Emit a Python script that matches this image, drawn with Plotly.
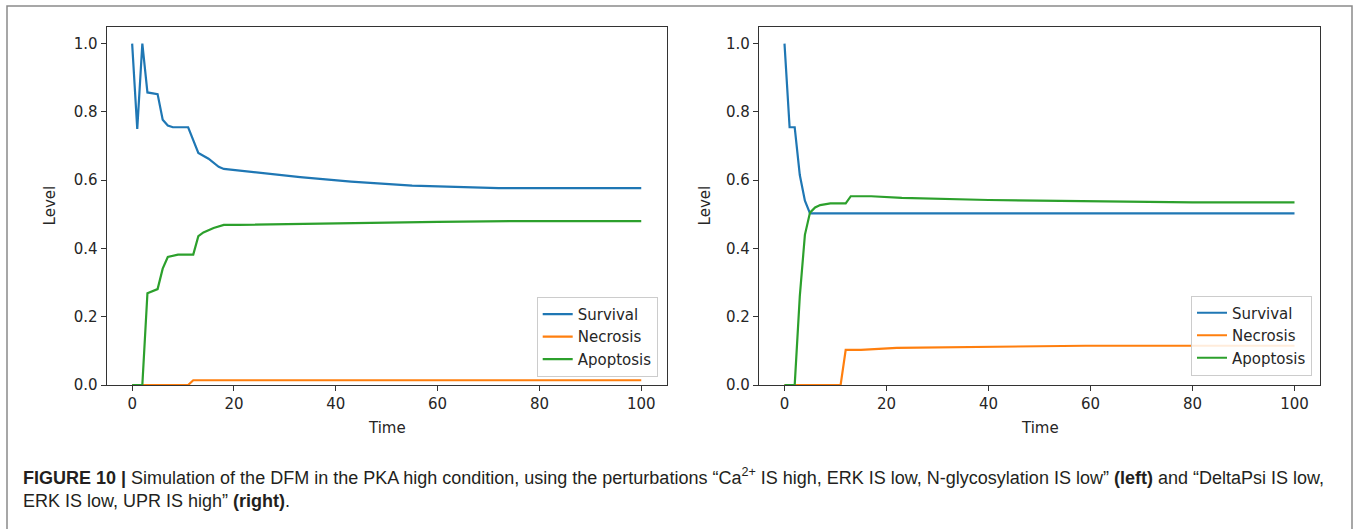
import plotly.graph_objects as go

# ---------------- data ----------------
series_names = ["Survival", "Necrosis", "Apoptosis"]
x_ticks = [0, 20, 40, 60, 80, 100]
y_ticks = [0.0, 0.2, 0.4, 0.6, 0.8, 1.0]

# Left panel
left_survival_t = [0, 1, 2, 3, 5, 6, 7, 8, 11, 13, 15, 17, 18, 21, 33, 43, 55, 72, 100]
left_survival_v = [1.0, 0.75, 1.0, 0.857, 0.852, 0.777, 0.76, 0.755, 0.755, 0.68, 0.663,
                   0.639, 0.633, 0.628, 0.609, 0.596, 0.584, 0.577, 0.577]
left_necrosis_t = [0, 11, 12, 100]
left_necrosis_v = [0.0, 0.0, 0.014, 0.014]
left_apoptosis_t = [0, 2, 3, 5, 6, 7, 9, 12, 13, 14, 16, 18, 21, 40, 60, 75, 100]
left_apoptosis_v = [0.0, 0.0, 0.269, 0.281, 0.341, 0.375, 0.382, 0.382, 0.436, 0.447,
                    0.46, 0.469, 0.469, 0.474, 0.478, 0.48, 0.48]

# Right panel
right_survival_t = [0, 1, 2, 3, 4, 5, 100]
right_survival_v = [1.0, 0.755, 0.755, 0.615, 0.54, 0.503, 0.503]
right_necrosis_t = [0, 11, 12, 15, 22, 40, 59, 75, 100]
right_necrosis_v = [0.0, 0.0, 0.103, 0.103, 0.109, 0.112, 0.115, 0.115, 0.115]
right_apoptosis_t = [0, 2, 3, 4, 5, 6, 7, 9, 12, 13, 17, 23, 40, 60, 80, 100]
right_apoptosis_v = [0.0, 0.0, 0.26, 0.44, 0.505, 0.52, 0.527, 0.532, 0.532, 0.553,
                     0.553, 0.548, 0.542, 0.538, 0.535, 0.535]

colors = ["#1f77b4", "#ff7f0e", "#2ca02c"]

caption_line1 = ("<b>FIGURE 10 |</b> Simulation of the DFM in the PKA high condition, using the "
                 "perturbations “Ca<sup>2+</sup> IS high, ERK IS low, N-glycosylation IS low” "
                 "<b>(left)</b> and “DeltaPsi IS low,")
caption_line2 = "ERK IS low, UPR IS high” <b>(right)</b>."

# ---------------- figure ----------------
W, H = 1358, 529
fig = go.Figure()

left = [(left_survival_t, left_survival_v), (left_necrosis_t, left_necrosis_v),
        (left_apoptosis_t, left_apoptosis_v)]
right = [(right_survival_t, right_survival_v), (right_necrosis_t, right_necrosis_v),
         (right_apoptosis_t, right_apoptosis_v)]

for i, (t, v) in enumerate(left):
    fig.add_trace(go.Scatter(x=t, y=v, mode="lines", name=series_names[i],
                             line=dict(color=colors[i], width=2.2),
                             xaxis="x", yaxis="y", legend="legend"))
for i, (t, v) in enumerate(right):
    fig.add_trace(go.Scatter(x=t, y=v, mode="lines", name=series_names[i],
                             line=dict(color=colors[i], width=2.2),
                             xaxis="x2", yaxis="y2", legend="legend2"))

tick_font = dict(family="DejaVu Sans", size=15, color="#262626")
axis_common = dict(showline=True, linecolor="#333333", linewidth=1.3, mirror=True,
                   ticks="outside", ticklen=5, tickwidth=1.2, tickcolor="#333333",
                   showgrid=False, zeroline=False, tickfont=tick_font)

y_dom = [1 - 391.7 / H, 1 - 27 / H]
fig.update_layout(
    width=W, height=H, autosize=False,
    margin=dict(l=0, r=0, t=0, b=0),
    paper_bgcolor="white", plot_bgcolor="white",
    xaxis=dict(domain=[106.7 / W, 666.7 / W], range=[-5, 105], tickvals=x_ticks,
               anchor="y", **axis_common),
    yaxis=dict(domain=y_dom, range=[0, 1.05], tickvals=y_ticks, tickformat=".1f",
               anchor="x", **axis_common),
    xaxis2=dict(domain=[759 / W, 1320 / W], range=[-5, 105], tickvals=x_ticks,
                anchor="y2", **axis_common),
    yaxis2=dict(domain=y_dom, range=[0, 1.05], tickvals=y_ticks, tickformat=".1f",
                anchor="x2", **axis_common),
    legend=dict(x=657.7 / W, y=1 - 383.3 / H, xanchor="right", yanchor="bottom",
                bgcolor="rgba(255,255,255,0.85)", bordercolor="#cccccc", borderwidth=1,
                font=dict(family="DejaVu Sans", size=15, color="#262626")),
    legend2=dict(x=1312 / W, y=1 - 382 / H, xanchor="right", yanchor="bottom",
                 bgcolor="rgba(255,255,255,0.85)", bordercolor="#cccccc", borderwidth=1,
                 font=dict(family="DejaVu Sans", size=15, color="#262626")),
    showlegend=True,
)

ann_font = dict(family="DejaVu Sans", size=15, color="#262626")
cap_font = dict(family="Liberation Sans", size=18, color="#231f20")
annotations = [
    dict(text="Time", x=386.7 / W, y=1 - 435 / H, xref="paper", yref="paper",
         showarrow=False, font=ann_font, xanchor="center", yanchor="middle"),
    dict(text="Time", x=1039.5 / W, y=1 - 435 / H, xref="paper", yref="paper",
         showarrow=False, font=ann_font, xanchor="center", yanchor="middle"),
    dict(text="Level", x=50 / W, y=1 - 209 / H, xref="paper", yref="paper", textangle=-90,
         showarrow=False, font=ann_font, xanchor="center", yanchor="middle"),
    dict(text="Level", x=705 / W, y=1 - 209 / H, xref="paper", yref="paper", textangle=-90,
         showarrow=False, font=ann_font, xanchor="center", yanchor="middle"),
    dict(text=caption_line1, x=21 / W, y=1 - 485 / H, xref="paper", yref="paper",
         showarrow=False, xanchor="left", yanchor="middle", align="left", font=cap_font),
    dict(text=caption_line2, x=21 / W, y=1 - 510 / H, xref="paper", yref="paper",
         showarrow=False, xanchor="left", yanchor="middle", align="left", font=cap_font),
]
fig.update_layout(annotations=annotations)

fig.add_shape(type="rect", xref="paper", yref="paper",
              x0=7 / W, x1=1352 / W, y0=-0.2, y1=1 - 6 / H,
              line=dict(color="#8a8a8a", width=1.5), fillcolor="rgba(0,0,0,0)", layer="below")

fig.write_html(
    "out.html",
    config={"displayModeBar": False, "responsive": False},
    post_script=("document.documentElement.style.margin='0';"
                 "document.body.style.margin='0';document.body.style.padding='0';"
                 "document.body.style.overflow='hidden';"),
)
